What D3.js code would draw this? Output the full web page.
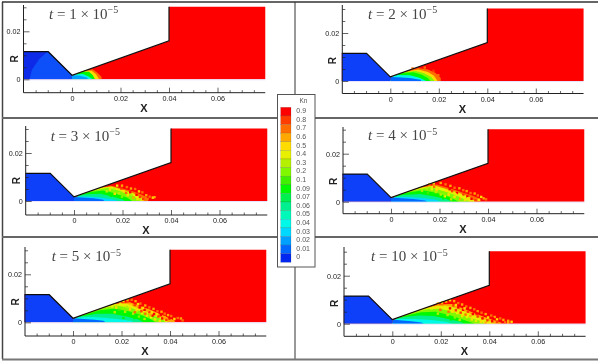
<!DOCTYPE html>
<html>
<head>
<meta charset="utf-8">
<script src="https://cdn.jsdelivr.net/npm/d3@7"></script>
<style>
body { margin: 0; background: #fff; }
svg { display: block; }
text { font-family: "Liberation Sans", Arial, sans-serif; }
</style>
</head>
<body>
<div id="chart"></div>
<script>
// Kn contour levels, top of the legend first
const knLevels = [0.9, 0.8, 0.7, 0.6, 0.5, 0.4, 0.3, 0.2, 0.1, 0.09, 0.07, 0.06, 0.05, 0.04, 0.03, 0.02, 0.01, 0];
const knColors = ["#ff0000", "#ff3c00", "#ff6e00", "#ffa800", "#ffdc00", "#e6f000", "#b4f000", "#80f800", "#40f000",
                  "#00f800", "#00f050", "#00f090", "#00f8b8", "#00f8e8", "#00d8ff", "#00a0ff", "#0068ff", "#0028f0"];
const timeLabels = ["1", "2", "3", "4", "5", "10"];

const xMajor = [0, 0.02, 0.04, 0.06];
const xMinor = [-0.015, -0.01, -0.005, 0.005, 0.01, 0.015, 0.025, 0.03, 0.035, 0.045, 0.05, 0.055, 0.065, 0.07, 0.075];
const rMajor = [0, 0.02];
const rMinor = [0.005, 0.01, 0.015, 0.025, 0.03];

// nozzle wall, inlet to exit, then the far side of the domain
const wall = [[-0.02, 0.0115], [-0.0098, 0.0115], [0, 0.0017], [0.04, 0.016], [0.04, 0.0302]];
const farSide = [[0.0797, 0.0302], [0.0797, 0], [-0.02, 0]];
const inlet = [[-0.02, 0.0115], [-0.0098, 0.0115], [0, 0.0017], [0, 0], [-0.02, 0]];
const inletCoreT1 = [[-0.0175, 0], [-0.0165, 0.004], [-0.0135, 0.0085], [-0.0105, 0.0112], [-0.0098, 0.0115], [0, 0.0017], [0, 0]];

// plume contours, outermost first: [Kn, upper edge points]
const plume1 = [
  [0.7, [[0.002, 0.0024], [0.0055, 0.0038], [0.0085, 0.0042], [0.0105, 0.0027], [0.0122, 0.0010], [0.0122, 0]]],
  [0.5, [[0.002, 0.0024], [0.0055, 0.0036], [0.008, 0.0036], [0.0098, 0.0022], [0.0112, 0]]],
  [0.09, [[0.002, 0.0023], [0.0045, 0.0031], [0.007, 0.0031], [0.0085, 0.0018], [0.0095, 0]]],
  [0.04, [[0.001, 0.0020], [0.0045, 0.0022], [0.0068, 0.0012], [0.0085, 0]]],
  [0.02, [[0, 0.0017], [0.003, 0.0016], [0.0062, 0.0008], [0.0066, 0]]]
];
const plume2 = [
  [0.7, [[0.002, 0.0024], [0.0065, 0.0040], [0.0115, 0.0054], [0.0155, 0.0048], [0.0185, 0.0034], [0.0208, 0.0012], [0.0208, 0]]],
  [0.5, [[0.002, 0.0024], [0.006, 0.0038], [0.0115, 0.0048], [0.0155, 0.0038], [0.018, 0.0022], [0.0195, 0]]],
  [0.2, [[0.002, 0.0024], [0.0055, 0.0036], [0.0105, 0.0042], [0.014, 0.0032], [0.017, 0.0016], [0.0182, 0]]],
  [0.09, [[0.002, 0.0023], [0.0045, 0.0032], [0.0095, 0.0036], [0.013, 0.0026], [0.0155, 0.0012], [0.0165, 0]]],
  [0.04, [[0.001, 0.0020], [0.003, 0.0025], [0.008, 0.0024], [0.012, 0.0014], [0.0148, 0]]],
  [0.01, [[0, 0.0017], [0.003, 0.0016], [0.008, 0.0012], [0.0125, 0.0005], [0.0128, 0]]]
];
const plume3 = [
  [0.7, [[0.002, 0.0024], [0.012, 0.0058], [0.0155, 0.0064], [0.020, 0.0052], [0.0245, 0.0040], [0.028, 0.0026], [0.031, 0.0010], [0.0305, 0]]],
  [0.4, [[0.002, 0.0024], [0.011, 0.0055], [0.0155, 0.0060], [0.020, 0.0047], [0.0245, 0.0032], [0.028, 0.0014], [0.029, 0]]],
  [0.2, [[0.002, 0.0024], [0.008, 0.0044], [0.014, 0.0055], [0.019, 0.0042], [0.024, 0.0024], [0.0275, 0]]],
  [0.09, [[0.002, 0.0023], [0.006, 0.0036], [0.012, 0.0044], [0.017, 0.0032], [0.022, 0.0014], [0.024, 0]]],
  [0.06, [[0.002, 0.0022], [0.005, 0.0028], [0.011, 0.0030], [0.016, 0.0018], [0.020, 0.0006], [0.021, 0]]],
  [0.03, [[0.001, 0.0019], [0.005, 0.0019], [0.010, 0.0016], [0.015, 0.0008], [0.018, 0]]],
  [0.01, [[0, 0.0017], [0.003, 0.0015], [0.008, 0.0011], [0.012, 0.0005], [0.0125, 0]]]
];
const plume4 = [
  [0.7, [[0.002, 0.0024], [0.013, 0.0062], [0.0188, 0.0072], [0.0235, 0.0058], [0.027, 0.0047], [0.034, 0.0024], [0.037, 0.0010], [0.037, 0]]],
  [0.4, [[0.002, 0.0024], [0.012, 0.0058], [0.018, 0.0068], [0.023, 0.0052], [0.027, 0.0040], [0.032, 0.0022], [0.035, 0]]],
  [0.2, [[0.002, 0.0024], [0.009, 0.0047], [0.016, 0.0060], [0.022, 0.0044], [0.027, 0.0026], [0.0325, 0]]],
  [0.09, [[0.002, 0.0023], [0.006, 0.0036], [0.013, 0.0048], [0.019, 0.0036], [0.024, 0.0020], [0.028, 0]]],
  [0.06, [[0.002, 0.0022], [0.005, 0.0028], [0.012, 0.0032], [0.018, 0.0022], [0.023, 0.0010], [0.025, 0]]],
  [0.03, [[0.001, 0.0019], [0.006, 0.0020], [0.012, 0.0016], [0.018, 0.0009], [0.021, 0]]],
  [0.01, [[0, 0.0017], [0.003, 0.0015], [0.009, 0.0011], [0.014, 0.0005], [0.015, 0]]]
];
const plume5 = [
  [0.6, [[0.002, 0.0024], [0.013, 0.0062], [0.018, 0.0078], [0.0235, 0.0084], [0.028, 0.0066], [0.032, 0.0052], [0.036, 0.0034], [0.040, 0.0016], [0.042, 0.0006], [0.042, 0]]],
  [0.4, [[0.002, 0.0024], [0.011, 0.0056], [0.017, 0.0076], [0.0225, 0.0076], [0.027, 0.0058], [0.031, 0.0042], [0.035, 0.0026], [0.038, 0.0010], [0.0395, 0]]],
  [0.2, [[0.002, 0.0024], [0.005, 0.0032], [0.012, 0.0058], [0.018, 0.0070], [0.024, 0.0060], [0.029, 0.0042], [0.034, 0.0024], [0.0375, 0.0008], [0.038, 0]]],
  [0.09, [[0.002, 0.0023], [0.004, 0.0028], [0.011, 0.0050], [0.017, 0.0056], [0.023, 0.0046], [0.028, 0.0030], [0.032, 0.0014], [0.034, 0]]],
  [0.06, [[0.002, 0.0022], [0.003, 0.0024], [0.010, 0.0036], [0.016, 0.0036], [0.022, 0.0024], [0.027, 0.0012], [0.029, 0]]],
  [0.04, [[0.001, 0.0019], [0.002, 0.0020], [0.008, 0.0022], [0.014, 0.0018], [0.020, 0.0012], [0.024, 0.0006], [0.025, 0]]],
  [0.01, [[0, 0.0017], [0.003, 0.0015], [0.009, 0.0011], [0.0125, 0.0006], [0.0135, 0]]]
];
const plume6 = [
  [0.6, [[0.002, 0.0024], [0.014, 0.0066], [0.019, 0.0080], [0.0245, 0.0082], [0.029, 0.0064], [0.0334, 0.0046], [0.038, 0.0028], [0.042, 0.0014], [0.045, 0.0004], [0.045, 0]]],
  [0.4, [[0.002, 0.0024], [0.012, 0.0060], [0.018, 0.0074], [0.024, 0.0072], [0.029, 0.0054], [0.033, 0.0038], [0.037, 0.0022], [0.041, 0.0008], [0.0425, 0]]],
  [0.2, [[0.002, 0.0024], [0.007, 0.0040], [0.014, 0.0060], [0.020, 0.0062], [0.026, 0.0046], [0.031, 0.0028], [0.036, 0.0012], [0.038, 0]]],
  [0.09, [[0.002, 0.0023], [0.006, 0.0034], [0.012, 0.0048], [0.018, 0.0050], [0.024, 0.0034], [0.029, 0.0018], [0.034, 0]]],
  [0.06, [[0.002, 0.0022], [0.005, 0.0028], [0.011, 0.0034], [0.017, 0.0032], [0.023, 0.0020], [0.028, 0.0008], [0.030, 0]]],
  [0.04, [[0.001, 0.0019], [0.003, 0.0020], [0.009, 0.0020], [0.016, 0.0015], [0.022, 0.0008], [0.025, 0]]],
  [0.01, [[0, 0.0017], [0.003, 0.0014], [0.008, 0.0010], [0.012, 0.0005], [0.013, 0]]]
];

const specks1 = [];
const specks2 = [[0.0198, 0.0024, 0.7], [0.0178, 0.0042, 0.8], [0.0142, 0.0056, 0.7], [0.0092, 0.0052, 0.7]];
const specks3 = [
  [0.0325, 0.0014, 0.5], [0.0332, 0.0016, 0.6], [0.0312, 0.0018, 0.7], [0.0298, 0.0024, 0.6], [0.0282, 0.0036, 0.7],
  [0.0268, 0.0040, 0.5], [0.0252, 0.0050, 0.7], [0.0235, 0.0052, 0.6], [0.0218, 0.0058, 0.7], [0.0198, 0.0064, 0.6],
  [0.0178, 0.0064, 0.5], [0.0258, 0.0026, 0.9], [0.0272, 0.0016, 0.8], [0.0232, 0.0036, 0.9], [0.0205, 0.0040, 0.5],
  [0.0222, 0.0024, 0.5], [0.0245, 0.0014, 0.6], [0.0262, 0.0008, 0.5], [0.0285, 0.0008, 0.8], [0.0168, 0.0030, 0.5],
  [0.0148, 0.0048, 0.5], [0.0165, 0.0050, 0.3], [0.0185, 0.0032, 0.3], [0.0215, 0.0034, 0.7], [0.0198, 0.0018, 0.2],
  [0.0135, 0.0040, 0.3], [0.0152, 0.0022, 0.09], [0.0238, 0.0026, 0.3], [0.0272, 0.0006, 0.3], [0.0195, 0.0052, 0.8]
];
const specks4 = [
  [0.0382, 0.0014, 0.6], [0.0392, 0.0010, 0.7], [0.0372, 0.0020, 0.5], [0.0358, 0.0026, 0.7], [0.0345, 0.0034, 0.6],
  [0.0328, 0.0036, 0.7], [0.0312, 0.0044, 0.6], [0.0298, 0.0048, 0.7], [0.0282, 0.0056, 0.6], [0.0262, 0.0058, 0.7],
  [0.0245, 0.0066, 0.6], [0.0225, 0.0072, 0.7], [0.0205, 0.0078, 0.6], [0.0158, 0.0072, 0.6], [0.0176, 0.0076, 0.5],
  [0.0332, 0.0012, 0.9], [0.0315, 0.0022, 0.9], [0.0298, 0.0030, 0.8], [0.0272, 0.0036, 0.9], [0.0252, 0.0044, 0.8],
  [0.0238, 0.0030, 0.5], [0.0262, 0.0020, 0.5], [0.0285, 0.0012, 0.6], [0.0305, 0.0008, 0.5], [0.0215, 0.0050, 0.4],
  [0.0195, 0.0056, 0.5], [0.0228, 0.0046, 0.5], [0.0348, 0.0006, 0.8], [0.0362, 0.0008, 0.5], [0.0248, 0.0010, 0.3],
  [0.0188, 0.0048, 0.5], [0.0205, 0.0030, 0.3], [0.0222, 0.0022, 0.4], [0.0178, 0.0062, 0.7], [0.0242, 0.0052, 0.9],
  [0.0168, 0.0052, 0.4], [0.0148, 0.0056, 0.3], [0.0128, 0.0046, 0.3], [0.0185, 0.0040, 0.3], [0.0268, 0.0030, 0.4],
  [0.0292, 0.0020, 0.4], [0.0318, 0.0014, 0.5], [0.0275, 0.0012, 0.2], [0.0152, 0.0036, 0.1], [0.0215, 0.0014, 0.09]
];
const specks5 = [
  [0.0445, 0.0016, 0.6], [0.0432, 0.0018, 0.7], [0.0452, 0.0008, 0.7], [0.0418, 0.0014, 0.5], [0.0405, 0.0026, 0.7],
  [0.0392, 0.0030, 0.6], [0.0378, 0.0036, 0.7], [0.0365, 0.0044, 0.6], [0.0348, 0.0046, 0.7], [0.0332, 0.0056, 0.6],
  [0.0315, 0.0062, 0.7], [0.0298, 0.0070, 0.6], [0.0278, 0.0078, 0.7], [0.0258, 0.0088, 0.6], [0.0242, 0.0094, 0.7],
  [0.0225, 0.0092, 0.6], [0.0208, 0.0088, 0.5], [0.0275, 0.0062, 0.9], [0.0295, 0.0052, 0.9], [0.0315, 0.0042, 0.8],
  [0.0335, 0.0034, 0.9], [0.0352, 0.0024, 0.8], [0.0368, 0.0016, 0.9], [0.0385, 0.0010, 0.8], [0.0402, 0.0006, 0.6],
  [0.0255, 0.0072, 0.8], [0.0238, 0.0070, 0.5], [0.0262, 0.0050, 0.5], [0.0285, 0.0038, 0.4], [0.0305, 0.0028, 0.5],
  [0.0322, 0.0020, 0.4], [0.0338, 0.0012, 0.5], [0.0358, 0.0006, 0.5], [0.0222, 0.0064, 0.3], [0.0248, 0.0036, 0.3],
  [0.0272, 0.0024, 0.2], [0.0215, 0.0044, 0.3], [0.0295, 0.0014, 0.3], [0.0208, 0.0018, 0.09], [0.0228, 0.0012, 0.06],
  [0.0195, 0.0078, 0.4], [0.0268, 0.0076, 0.5], [0.0288, 0.0060, 0.5], [0.0308, 0.0050, 0.6], [0.0325, 0.0042, 0.5],
  [0.0345, 0.0034, 0.5], [0.0362, 0.0030, 0.9], [0.0378, 0.0022, 0.6], [0.0398, 0.0016, 0.9], [0.0328, 0.0028, 0.9],
  [0.0178, 0.0062, 0.5], [0.0162, 0.0066, 0.4], [0.0192, 0.0052, 0.1], [0.0235, 0.0054, 0.5], [0.0255, 0.0042, 0.7],
  [0.0282, 0.0046, 0.8], [0.0298, 0.0036, 0.7], [0.0318, 0.0030, 0.6], [0.0172, 0.0042, 0.3], [0.0252, 0.0018, 0.09]
];
const specks6 = [
  [0.0492, 0.0008, 0.5], [0.0478, 0.0012, 0.6], [0.0465, 0.0006, 0.7], [0.0458, 0.0016, 0.6], [0.0445, 0.0022, 0.7],
  [0.0432, 0.0018, 0.5], [0.0422, 0.0028, 0.6], [0.0408, 0.0034, 0.7], [0.0395, 0.0026, 0.5], [0.0385, 0.0040, 0.6],
  [0.0368, 0.0046, 0.7], [0.0352, 0.0052, 0.6], [0.0338, 0.0060, 0.7], [0.0322, 0.0066, 0.6], [0.0305, 0.0072, 0.7],
  [0.0288, 0.0080, 0.6], [0.0272, 0.0086, 0.7], [0.0255, 0.0094, 0.6], [0.0238, 0.0098, 0.5], [0.0222, 0.0092, 0.6],
  [0.0205, 0.0088, 0.5], [0.0188, 0.0084, 0.6], [0.0272, 0.0068, 0.9], [0.0292, 0.0058, 0.9], [0.0312, 0.0050, 0.8],
  [0.0332, 0.0040, 0.9], [0.0352, 0.0030, 0.8], [0.0372, 0.0022, 0.9], [0.0392, 0.0014, 0.8], [0.0412, 0.0010, 0.9],
  [0.0432, 0.0008, 0.8], [0.0252, 0.0076, 0.8], [0.0238, 0.0064, 0.9], [0.0218, 0.0070, 0.4], [0.0248, 0.0050, 0.5],
  [0.0268, 0.0044, 0.4], [0.0288, 0.0032, 0.5], [0.0308, 0.0028, 0.4], [0.0328, 0.0018, 0.5], [0.0345, 0.0012, 0.4],
  [0.0365, 0.0008, 0.5], [0.0385, 0.0004, 0.6], [0.0228, 0.0036, 0.3], [0.0258, 0.0026, 0.2], [0.0278, 0.0016, 0.3],
  [0.0478, 0.0004, 0.6], [0.0415, 0.0022, 0.9], [0.0348, 0.0042, 0.9], [0.0298, 0.0064, 0.5], [0.0262, 0.0078, 0.5],
  [0.0178, 0.0066, 0.5], [0.0162, 0.0064, 0.4], [0.0198, 0.0058, 0.7], [0.0232, 0.0050, 0.7], [0.0262, 0.0056, 0.8],
  [0.0282, 0.0046, 0.8], [0.0302, 0.0038, 0.7], [0.0322, 0.0032, 0.6], [0.0188, 0.0042, 0.3], [0.0242, 0.0018, 0.09]
];

const plumes = [plume1, plume2, plume3, plume4, plume5, plume6];
const specks = [specks1, specks2, specks3, specks4, specks5, specks6];

// pixel place of each panel: x=0 / R=0 position, left spine, axis top and bottom, title start and baseline
const panels = [
  {x0: 72, y0: 79.3, left: 23.5, top: 5, bottom: 92.7, tx: 49, ty: 18.5},
  {x0: 390.3, y0: 81, left: 342.3, top: 5, bottom: 93.5, tx: 368, ty: 18.5},
  {x0: 74, y0: 201, left: 25.7, top: 126, bottom: 215, tx: 50.7, ty: 140.7},
  {x0: 391, y0: 201.7, left: 343, top: 127, bottom: 213.7, tx: 368, ty: 140},
  {x0: 73, y0: 322.3, left: 25, top: 247, bottom: 336, tx: 51.7, ty: 261},
  {x0: 392.3, y0: 323.7, left: 344, top: 247, bottom: 336.3, tx: 371, ty: 261}
];

const w = 598, h = 363;
const color = d3.scaleOrdinal().domain(knLevels).range(knColors);

const root = d3.select("#chart").append("svg")
  .attr("width", w)
  .attr("height", h);

// the reference is a soft screenshot
root.append("filter").attr("id", "soft")
  .append("feGaussianBlur").attr("stdDeviation", 0.5);

const svg = root.append("g").attr("filter", "url(#soft)");
svg.append("rect").attr("width", w).attr("height", h).attr("fill", "#fff");

// frame of the figure
const frame = [
  {x1: 2.5, y1: 2, x2: 2.5, y2: 359, c: "#444", s: 1.5},
  {x1: 2, y1: 2, x2: 598, y2: 2, c: "#333", s: 1.5},
  {x1: 295, y1: 2, x2: 295, y2: 360, c: "#333", s: 1},
  {x1: 2, y1: 118, x2: 598, y2: 118, c: "#666", s: 2},
  {x1: 2, y1: 237, x2: 598, y2: 237, c: "#666", s: 2},
  {x1: 2, y1: 359.5, x2: 598, y2: 359.5, c: "#777", s: 2}
];
svg.selectAll(".frame").data(frame).enter().append("line")
  .attr("class", "frame")
  .attr("x1", d => d.x1).attr("y1", d => d.y1)
  .attr("x2", d => d.x2).attr("y2", d => d.y2)
  .attr("stroke", d => d.c)
  .attr("stroke-width", d => d.s);

panels.forEach((p, i) => {
  const xScale = d3.scaleLinear().domain([0, 0.04]).range([p.x0, p.x0 + 97]);
  const yScale = d3.scaleLinear().domain([0, 0.02]).range([p.y0, p.y0 - 48]);
  const line = d3.line().x(d => xScale(d[0])).y(d => yScale(d[1]));
  const g = svg.append("g");

  // domain
  g.append("path").attr("d", line(wall.concat(farSide)) + "Z").attr("fill", "#ff0000");
  g.append("path").attr("d", line(inlet) + "Z").attr("fill", i === 0 ? "#0a2ce8" : "#0a40f8");
  if (i === 0) g.append("path").attr("d", line(inletCoreT1) + "Z").attr("fill", "#0a50f8");

  // plume
  plumes[i].forEach(band => {
    g.append("path")
      .attr("d", line(band[1].concat([[0, 0]])) + "Z")
      .attr("fill", color(band[0]));
  });
  g.selectAll(".cell").data(specks[i]).enter().append("rect")
    .attr("class", "cell")
    .attr("x", d => xScale(d[0]) - 1.2)
    .attr("y", d => yScale(d[1]) - 1.2)
    .attr("width", 2.4)
    .attr("height", 2.4)
    .attr("fill", d => color(d[2]));

  // symmetry line is pale under the domain
  g.append("line")
    .attr("x1", xScale(-0.02)).attr("x2", xScale(0.0797))
    .attr("y1", p.y0 + 0.5).attr("y2", p.y0 + 0.5)
    .attr("stroke", "#e8e4ff").attr("stroke-width", 1);

  g.append("path").attr("d", line(wall))
    .attr("fill", "none").attr("stroke", "#111").attr("stroke-width", 1.2);

  // x axis
  const xAxis = d3.axisBottom(xScale).tickValues(xMajor).tickFormat(d3.format("~g")).tickSize(-5).tickPadding(3);
  const xg = g.append("g").attr("transform", "translate(0," + p.bottom + ")").call(xAxis);
  const xMin = d3.axisBottom(xScale).tickValues(xMinor).tickFormat("").tickSize(-2.5);
  const xm = g.append("g").attr("transform", "translate(0," + p.bottom + ")").call(xMin);

  // y axis
  const yAxis = d3.axisLeft(yScale).tickValues(rMajor).tickFormat(d3.format("~g")).tickSize(-6).tickPadding(3);
  const yg = g.append("g").attr("transform", "translate(" + p.left + ",0)").call(yAxis);
  const yMin = d3.axisLeft(yScale).tickValues(rMinor).tickFormat("").tickSize(-3);
  const ym = g.append("g").attr("transform", "translate(" + p.left + ",0)").call(yMin);

  [xg, xm, yg, ym].forEach(a => {
    a.select(".domain").remove();
    a.selectAll("line").attr("stroke", "#222").attr("stroke-width", 0.7);
    a.selectAll("text").attr("font-size", 7.2).attr("fill", "#222")
      .attr("font-family", '"Liberation Sans", Arial, sans-serif');
  });

  // spines
  g.append("path")
    .attr("d", `M${p.left},${p.top}V${p.bottom}H${xScale(0.0797)}`)
    .attr("fill", "none").attr("stroke", "#222").attr("stroke-width", 1);

  g.append("text")
    .attr("x", xScale(0.0297))
    .attr("y", p.bottom + 19)
    .attr("text-anchor", "middle")
    .attr("font-size", 11).attr("font-weight", "bold").attr("fill", "#222")
    .text("X");

  g.append("text")
    .attr("transform", `translate(${p.left - 6},${yScale(0.0085)}) rotate(-90)`)
    .attr("text-anchor", "middle")
    .attr("font-size", 10).attr("font-weight", "bold").attr("fill", "#222")
    .text("R");

  // time stamp
  const title = g.append("text")
    .attr("x", p.tx).attr("y", p.ty)
    .attr("font-size", 15).attr("fill", "#444")
    .style("font-family", '"Liberation Serif", serif');
  title.append("tspan").attr("font-style", "italic").text("t");
  title.append("tspan").text(" = " + timeLabels[i] + " × 10");
  title.append("tspan").attr("dy", -5.5).attr("font-size", 10).text("−5");
});

// legend
const legend = svg.append("g");
legend.append("rect")
  .attr("x", 277.5).attr("y", 94.5).attr("width", 37.5).attr("height", 172.5)
  .attr("fill", "#fff").attr("stroke", "#555").attr("stroke-width", 1);

const legendY = d3.scaleBand().domain(knLevels).range([107.3, 262.3]);
legend.selectAll(".swatch").data(knLevels).enter().append("rect")
  .attr("class", "swatch")
  .attr("x", 280.7)
  .attr("y", d => legendY(d))
  .attr("width", 10.3)
  .attr("height", legendY.bandwidth())
  .attr("fill", d => color(d))
  .attr("stroke", "#333")
  .attr("stroke-opacity", 0.35)
  .attr("stroke-width", 0.4);

legend.selectAll(".lab").data(knLevels).enter().append("text")
  .attr("class", "lab")
  .attr("x", 296.3)
  .attr("y", d => legendY(d) + legendY.bandwidth() / 2 + 1.5)
  .attr("font-size", 7)
  .attr("fill", "#555")
  .text(d => d);

legend.append("text")
  .attr("x", 299.5).attr("y", 103)
  .attr("font-size", 6.5).attr("fill", "#555")
  .text("Kn");
</script>
</body>
</html>
